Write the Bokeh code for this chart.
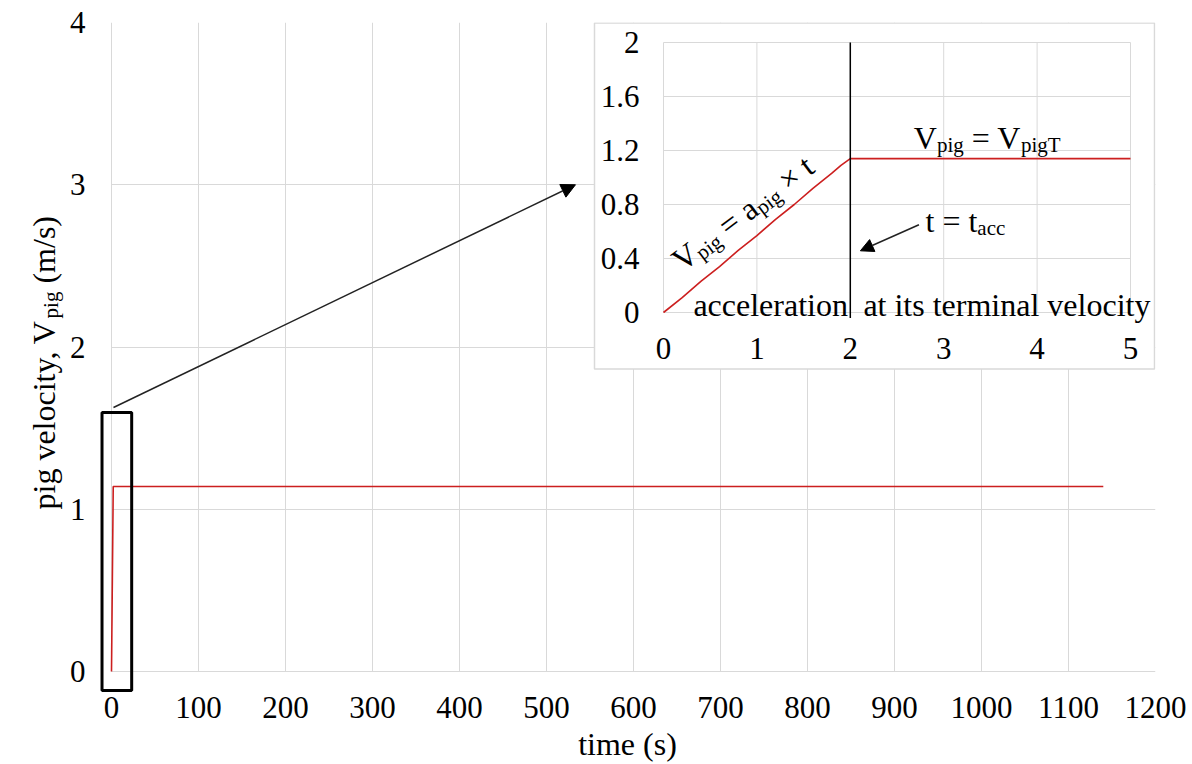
import math

from bokeh.core.properties import value
from bokeh.embed import file_html
from bokeh.layouts import row
from bokeh.models import (Arrow, BoxAnnotation, ColumnDataSource, FixedTicker, Label,
                          NormalHead, Range1d)
from bokeh.plotting import figure
from bokeh.resources import INLINE

# ---------------------------------------------------------------- data
# pig velocity history (s, m/s): constant acceleration up to t_acc, then terminal velocity
time_s = [0, 0.2, 0.4, 0.6, 0.8, 1.0, 1.2, 1.4, 1.6, 1.8, 1.9, 2.0, 3.0, 4.0, 5.0, 1140]
velocity_ms = [0, 0.11, 0.23, 0.34, 0.46, 0.57, 0.69, 0.80, 0.92, 1.03, 1.09, 1.14,
               1.14, 1.14, 1.14, 1.14]
t_acc = 2.0

main_xticks = [0, 100, 200, 300, 400, 500, 600, 700, 800, 900, 1000, 1100, 1200]
main_yticks = [0, 1, 2, 3, 4]
inset_xticks = [0, 1, 2, 3, 4, 5]
inset_xtick_labels = ["0", "1", "2", "3", "4", "5"]
inset_yticks = [0, 0.4, 0.8, 1.2, 1.6, 2.0]
inset_ytick_labels = ["0", "0.4", "0.8", "1.2", "1.6", "2"]

# ---------------------------------------------------------------- style / layout
FONT = "Liberation Serif"
TICK = 31
BIG = 32
SUB = 21
GRID = "#d9d9d9"
RED = "#cc1f1f"

W, H = 1192, 764
TITLE_W = 66                              # strip holding the y axis title
PX0, PX1, PY0, PY1 = 111, 1155, 22, 671   # data box of the main chart (page px)
FL, FB = 99, 692                          # frame reaches a little past the data box
IL, IR, IT, IB = 663, 1130, 42, 312       # inset plotting area (page px)
X_MAX, Y_MAX = 1200, 4
IX_MAX, IY_MAX = 5, 2

kx, ky = (PX1 - PX0) / X_MAX, (PY1 - PY0) / Y_MAX
ikx, iky = (IR - IL) / IX_MAX, (IB - IT) / IY_MAX


class Coords:
    def __init__(self, x0, y0, kx, ky, xr="default", yr="default"):
        self.x0, self.y0, self.kx, self.ky, self.xr, self.yr = x0, y0, kx, ky, xr, yr

    def to_px(self, x, y):
        return self.x0 + x * self.kx, self.y0 - y * self.ky

    def from_px(self, sx, sy):
        return (sx - self.x0) / self.kx, (self.y0 - sy) / self.ky


MAIN = Coords(PX0, PY1, kx, ky)
INSET = Coords(IL, IB, ikx, iky, "inset_x", "inset_y")
TITLE = Coords(0, 0, 1, -1)

p = figure(width=W - TITLE_W, height=H,
           x_range=Range1d((FL - PX0) / kx, X_MAX), y_range=Range1d((PY1 - FB) / ky, Y_MAX),
           output_backend="svg", toolbar_location=None,
           min_border_left=FL - TITLE_W, min_border_right=W - PX1,
           min_border_top=PY0, min_border_bottom=H - FB)
p.extra_x_ranges = {"inset_x": Range1d((FL - IL) / ikx, (PX1 - IL) / ikx)}
p.extra_y_ranges = {"inset_y": Range1d((IB - FB) / iky, (IB - PY0) / iky)}
p.outline_line_color = None
p.background_fill_color = "white"
p.border_fill_color = "white"

p.xaxis.ticker = FixedTicker(ticks=main_xticks)
p.yaxis.ticker = FixedTicker(ticks=main_yticks)
for ax in (p.xaxis[0], p.yaxis[0]):
    ax.axis_line_color = None
    ax.major_tick_line_color = None
    ax.minor_tick_line_color = None
    ax.major_tick_out = 0
    ax.major_label_text_font = FONT
    ax.major_label_text_font_size = f"{TICK}px"
    ax.major_label_text_color = "black"
p.xaxis.major_label_standoff = 4
p.yaxis.major_label_standoff = 14
p.xaxis.axis_label = "time (s)"
p.xaxis.axis_label_text_font = FONT
p.xaxis.axis_label_text_font_size = f"{BIG}px"
p.xaxis.axis_label_text_font_style = "normal"
p.xaxis.axis_label_text_color = "black"
p.xaxis.axis_label_standoff = 5
p.grid.grid_line_color = GRID
p.grid.grid_line_width = 1
p.xgrid.bounds = (0, X_MAX)
p.xgrid.cross_bounds = (0, Y_MAX)
p.ygrid.bounds = (0, Y_MAX)
p.ygrid.cross_bounds = (0, X_MAX)

# ---------------------------------------------------------------- main series
src = ColumnDataSource(dict(t=time_s, v=velocity_ms))
p.line("t", "v", source=src, line_color=RED, line_width=1.6)

# ---------------------------------------------------------------- inset
box_l, box_t = INSET.from_px(594, 22.5)
box_r, box_b = INSET.from_px(1154, 368.5)
p.quad(left=[box_l], right=[box_r], top=[box_t], bottom=[box_b],
       fill_color="white", line_color=GRID, line_width=1.5,
       x_range_name="inset_x", y_range_name="inset_y")

# inset grid
p.segment(x0=inset_xticks, y0=[0] * len(inset_xticks),
          x1=inset_xticks, y1=[IY_MAX] * len(inset_xticks),
          line_color=GRID, line_width=1, x_range_name="inset_x", y_range_name="inset_y")
p.segment(x0=[0] * len(inset_yticks), y0=inset_yticks,
          x1=[IX_MAX] * len(inset_yticks), y1=inset_yticks,
          line_color=GRID, line_width=1, x_range_name="inset_x", y_range_name="inset_y")

# inset tick labels
p.text(x=inset_xticks, y=[-36 / iky] * len(inset_xticks), text=inset_xtick_labels,
       text_font=value(FONT), text_font_size=f"{TICK}px", text_align="center",
       text_baseline="middle", text_color="black",
       x_range_name="inset_x", y_range_name="inset_y")
p.text(x=[-24 / ikx] * len(inset_yticks), y=inset_yticks, text=inset_ytick_labels,
       text_font=value(FONT), text_font_size=f"{TICK}px", text_align="right",
       text_baseline="middle", text_color="black",
       x_range_name="inset_x", y_range_name="inset_y")

# first seconds of the same series
inset_src = ColumnDataSource(dict(
    t=[t for t in time_s if t <= IX_MAX],
    v=[v for t, v in zip(time_s, velocity_ms) if t <= IX_MAX]))
p.line("t", "v", source=inset_src, line_color=RED, line_width=1.6,
       x_range_name="inset_x", y_range_name="inset_y")

# end of acceleration
p.segment(x0=[t_acc], y0=[-0.04], x1=[t_acc], y1=[IY_MAX], line_color="black",
          line_width=1.5, x_range_name="inset_x", y_range_name="inset_y")

# ---------------------------------------------------------------- text helpers
ADV = {" ": 250, "(": 333, ")": 333, ",": 250, "/": 278, "=": 564, "\u00d7": 564,
       "T": 611, "V": 722, "a": 444, "c": 444, "e": 444, "g": 500, "i": 278, "l": 278,
       "m": 778, "n": 500, "o": 500, "p": 500, "r": 333, "s": 389, "t": 278, "v": 500,
       "y": 500}


def advance(s, size):
    return sum(ADV.get(ch, 500) for ch in s) * size / 1000


def rich_text(fig, x, y, pieces, coords, angle_deg=0.0):
    """Write a run of text pieces (text, size, baseline drop in px) from (x, y)."""
    sx0, sy0 = coords.to_px(x, y)
    th = math.radians(angle_deg)
    c, s = math.cos(th), math.sin(th)
    d = 0.0
    for txt, size, drop in pieces:
        lead = len(txt) - len(txt.lstrip(" "))
        ds = d + advance(" " * lead, size)
        sx = sx0 + ds * c + drop * s
        sy = sy0 - ds * s + drop * c
        lx, ly = coords.from_px(sx, sy)
        fig.add_layout(Label(x=lx, y=ly, text=txt.strip(" "), angle=th,
                             text_font=FONT, text_font_size=f"{size}px",
                             text_color="black", text_align="left",
                             text_baseline="alphabetic",
                             x_range_name=coords.xr, y_range_name=coords.yr))
        d += advance(txt, size)


# inset texts
rich_text(p, 0.13, 0.363,
          [("V", BIG, 0), ("pig", SUB, 7), (" = a", BIG, 0), ("pig", SUB, 7),
           (" \u00d7 t", BIG, 0)], INSET, angle_deg=37)
rich_text(p, 2.68, 1.296,
          [("V", BIG, 0), ("pig", SUB, 7), (" = V", BIG, 0), ("pigT", SUB, 7)], INSET)
rich_text(p, 2.805, 0.681,
          [("t = t", BIG, 0), ("acc", SUB, 7)], INSET)
rich_text(p, 0.32, 0.052, [("acceleration", BIG, 0)], INSET)
rich_text(p, 2.14, 0.052, [("at its terminal velocity", BIG, 0)], INSET)

p.add_layout(Arrow(x_start=2.735, y_start=0.65, x_end=2.108, y_end=0.457,
                   line_color="#222222", line_width=1.5,
                   end=NormalHead(size=13, fill_color="black", line_color="black"),
                   x_range_name="inset_x", y_range_name="inset_y"))

# zoom window around the start of the run, and pointer to the inset
p.add_layout(BoxAnnotation(left=-10.9, right=23.2, bottom=-0.117, top=1.596,
                           fill_color=None, fill_alpha=0, line_color="black",
                           line_width=3, line_alpha=1))
p.add_layout(Arrow(x_start=2.3, y_start=1.627, x_end=533.3, y_end=3.0,
                   line_color="#222222", line_width=1.5,
                   end=NormalHead(size=14, fill_color="black", line_color="black")))

# ---------------------------------------------------------------- y axis title strip
# same vertical borders as the chart, so its y range reads directly in page pixels
ytitle = figure(width=TITLE_W, height=H, x_range=Range1d(0, TITLE_W),
                y_range=Range1d(FB, PY0),
                output_backend="svg", toolbar_location=None,
                min_border_left=0, min_border_right=0,
                min_border_top=PY0, min_border_bottom=H - FB,
                x_axis_type=None, y_axis_type=None)
ytitle.outline_line_color = None
ytitle.grid.visible = False
ytitle.background_fill_color = "white"
ytitle.border_fill_color = "white"
rich_text(ytitle, 43, 509,
          [("pig velocity, V", BIG, 0), ("pig", SUB, 7), (" (m/s)", BIG, 0)],
          TITLE, angle_deg=90)

layout = row(ytitle, p, spacing=0)
open("out.html", "w").write(file_html(layout, INLINE))
